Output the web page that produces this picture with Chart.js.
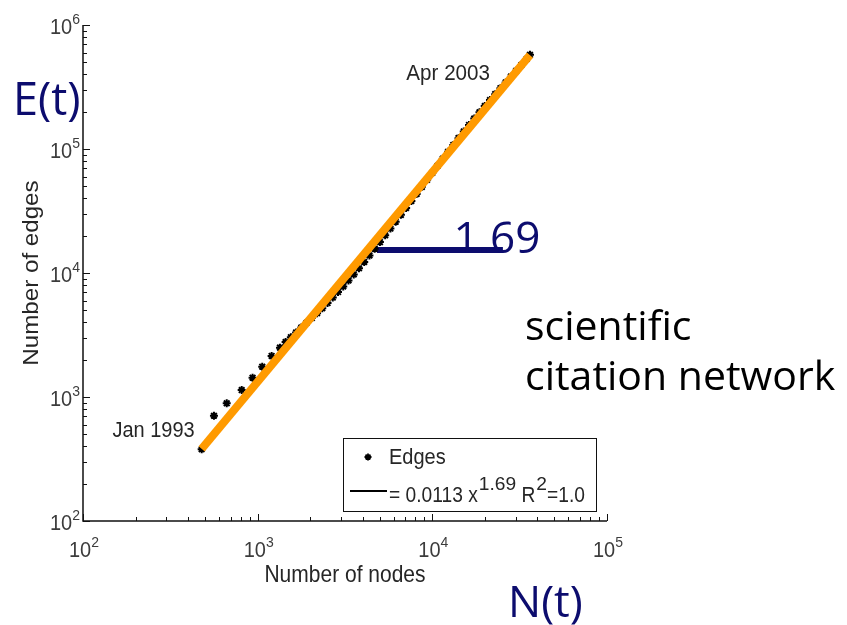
<!DOCTYPE html>
<html>
<head>
<meta charset="utf-8">
<title>Densification of the citation graph</title>
<script src="https://cdn.jsdelivr.net/npm/chart.js@4.4.1/dist/chart.umd.min.js"></script>
<style>
  html, body { margin: 0; padding: 0; background: #fff; }
  #wrap { position: relative; width: 847px; height: 625px; }
</style>
</head>
<body>
<div id="wrap"><canvas id="densChart" width="847" height="625"></canvas></div>
<script>
// monthly snapshots of the citation graph, Jan 1993 .. Apr 2003
var nodes = [478, 562, 665, 810, 935, 1062, 1202, 1342, 1445, 1549, 1660, 1778, 1905, 2042,
  2188, 2344, 2512, 2692, 2884, 3090, 3311, 3548, 3802, 4074, 4365, 4677, 5012, 5370, 5754,
  6166, 6607, 7079, 7586, 8128, 8710, 9333, 10000, 10715, 11482, 12303, 13183, 14125, 15136,
  16218, 17378, 18621, 19953, 21380, 22909, 24547, 26303, 28184, 30200, 32359, 34674, 36224];
var edges = [379, 706, 890, 1137, 1432, 1755, 2142, 2500, 2776, 3035, 3318, 3627, 3965, 4334,
  4738, 5204, 5728, 6335, 7021, 7800, 8706, 9739, 10920, 12272, 13855, 15679, 17743, 20125,
  22825, 25890, 29431, 33460, 38125, 43443, 49503, 56404, 64271, 73237, 83447, 94869, 107850,
  122330, 138430, 156290, 176050, 197850, 221830, 248160, 276960, 309100, 344210, 383300,
  426780, 476340, 531650, 575050];

// power-law fit E = a * N^b
var fitCoef = 0.0113;
var fitExp = 1.69;
var fitR2 = '1.0';
var fitRange = [478, 36200];

// horizontal bar marking the slope
var slopeBarNodes = [4820, 25350];
var slopeBarEdges = 15300;

// decade exponents on each axis
var xPowers = [2, 3, 4, 5];
var yPowers = [2, 3, 4, 5, 6];

var startLabel = 'Jan 1993';
var endLabel = 'Apr 2003';

var navy = '#0c0c6e';
var orange = '#ff9a00';
var mFont = '"Liberation Sans", Arial, sans-serif';
var sFont = '"Open Sans", "Noto Sans", sans-serif';

var points = nodes.map(function(n, i) { return { x: n, y: edges[i] }; });
var fitPoints = fitRange.map(function(n) { return { x: n, y: fitCoef * Math.pow(n, fitExp) }; });
var slopePoints = slopeBarNodes.map(function(n) { return { x: n, y: slopeBarEdges }; });

// text with optional x/y stretch, anchored on its baseline
function txt(ctx, s, x, y, font, sx, sy) {
  ctx.save();
  ctx.font = font;
  ctx.translate(x, y);
  ctx.scale(sx || 1, sy || 1);
  ctx.fillText(s, 0, 0);
  ctx.restore();
}
function width(ctx, s, font, sx) {
  ctx.save();
  ctx.font = font;
  var w = ctx.measureText(s).width * (sx || 1);
  ctx.restore();
  return w;
}

// "10" with a raised exponent
function powLabel(ctx, p, x, y, align) {
  var bf = '20px ' + mFont, ef = '14px ' + mFont;
  var wb = width(ctx, '10', bf), we = width(ctx, String(p), ef);
  var left = align === 'center' ? x - (wb + we) / 2 : x - wb - we;
  txt(ctx, '10', left, y, bf, 1, 1.1);
  txt(ctx, String(p), left + wb, y - 10, ef, 1, 1.1);
}

var overlay = {
  id: 'overlay',
  afterDraw: function(chart) {
    var ctx = chart.ctx, a = chart.chartArea;
    var xs = chart.scales.x, ys = chart.scales.y;
    ctx.save();

    // axis lines
    ctx.strokeStyle = '#111';
    ctx.lineWidth = 1.5;
    ctx.beginPath();
    ctx.moveTo(a.left, a.top);
    ctx.lineTo(a.left, a.bottom);
    ctx.lineTo(a.right, a.bottom);
    ctx.stroke();

    // inward ticks, majors at decades
    ctx.lineWidth = 1;
    ctx.beginPath();
    var k, m, v, px, len;
    for (k = xPowers[0]; k <= xPowers[xPowers.length - 1]; k++) {
      for (m = 1; m <= 9; m++) {
        v = m * Math.pow(10, k);
        if (v > xs.max * 1.0001) break;
        px = Math.round(xs.getPixelForValue(v)) + 0.5;
        len = m === 1 ? 7 : 4;
        ctx.moveTo(px, a.bottom);
        ctx.lineTo(px, a.bottom - len);
      }
    }
    for (k = yPowers[0]; k <= yPowers[yPowers.length - 1]; k++) {
      for (m = 1; m <= 9; m++) {
        v = m * Math.pow(10, k);
        if (v > ys.max * 1.0001) break;
        px = Math.round(ys.getPixelForValue(v)) + 0.5;
        len = m === 1 ? 7 : 4;
        ctx.moveTo(a.left, px);
        ctx.lineTo(a.left + len, px);
      }
    }
    ctx.stroke();

    // tick labels
    ctx.fillStyle = '#3c3c3c';
    ctx.textAlign = 'left';
    ctx.textBaseline = 'alphabetic';
    xPowers.forEach(function(p) {
      powLabel(ctx, p, xs.getPixelForValue(Math.pow(10, p)) + 1, a.bottom + 36, 'center');
    });
    yPowers.forEach(function(p) {
      powLabel(ctx, p, a.left - 3, ys.getPixelForValue(Math.pow(10, p)) + 9, 'right');
    });

    // axis titles
    ctx.fillStyle = '#262626';
    var tf = '21px ' + mFont;
    var tw = width(ctx, 'Number of nodes', tf);
    txt(ctx, 'Number of nodes', (a.left + a.right) / 2 - tw / 2, a.bottom + 61, tf, 1, 1.1);
    ctx.save();
    ctx.translate(38, (a.top + a.bottom) / 2);
    ctx.rotate(-Math.PI / 2);
    var tw2 = width(ctx, 'Number of edges', tf, 1.15);
    txt(ctx, 'Number of edges', -tw2 / 2, 0, tf, 1.15, 1.05);
    ctx.restore();

    // first / last snapshot labels
    var f = points[0], l = points[points.length - 1];
    var lf = '20px ' + mFont;
    var fx = xs.getPixelForValue(f.x), fy = ys.getPixelForValue(f.y);
    txt(ctx, startLabel, fx - 7 - width(ctx, startLabel, lf), fy - 12, lf, 1, 1.12);
    var lx = xs.getPixelForValue(l.x), ly = ys.getPixelForValue(l.y);
    txt(ctx, endLabel, lx - 40 - width(ctx, endLabel, lf, 1.03), ly + 25, lf, 1.03, 1.12);

    // legend box
    var bx = 343, by = 438, bw = 253, bh = 73;
    ctx.fillStyle = '#fff';
    ctx.fillRect(bx, by, bw, bh);
    ctx.strokeStyle = '#111';
    ctx.lineWidth = 1;
    ctx.strokeRect(bx + 0.5, by + 0.5, bw, bh);
    ctx.strokeStyle = '#000';
    ctx.fillStyle = '#000';
    ctx.lineWidth = 1.8;
    Chart.helpers.drawPoint(ctx, { pointStyle: 'star', radius: 3.5, rotation: 0, borderWidth: 1.8 }, bx + 25, by + 19);
    ctx.fillStyle = '#262626';
    var gf = '20px ' + mFont, sf = '16px ' + mFont;
    txt(ctx, 'Edges', bx + 46, by + 26, gf, 1, 1.1);
    ctx.strokeStyle = '#000';
    ctx.lineWidth = 2.2;
    ctx.beginPath();
    ctx.moveTo(bx + 7, by + 53);
    ctx.lineTo(bx + 44, by + 53);
    ctx.stroke();
    var ex = bx + 46, ey = by + 64;
    var s1 = '= ' + fitCoef + ' x';
    txt(ctx, s1, ex, ey, gf, 0.96, 1.1);
    ex += width(ctx, s1, gf, 0.96) + 1;
    txt(ctx, String(fitExp), ex, ey - 12, sf, 1.2, 1.1);
    ex += width(ctx, String(fitExp), sf, 1.2);
    txt(ctx, ' R', ex, ey, gf, 0.96, 1.1);
    ex += width(ctx, ' R', gf, 0.96) + 1;
    txt(ctx, '2', ex, ey - 12, sf, 1.2, 1.1);
    ex += width(ctx, '2', sf, 1.2);
    txt(ctx, '=' + fitR2, ex, ey, gf, 0.96, 1.1);

    // slide captions
    ctx.fillStyle = navy;
    txt(ctx, 'E(t)', 13, 115, '45px ' + sFont);
    txt(ctx, 'N(t)', 508, 617, '44px ' + sFont);
    txt(ctx, String(fitExp), xs.getPixelForValue(13200), ys.getPixelForValue(slopeBarEdges) + 3, '44px ' + sFont);
    ctx.fillStyle = '#000';
    txt(ctx, 'scientific', 525, 340, '41px ' + sFont);
    txt(ctx, 'citation network', 525, 390, '41px ' + sFont);

    ctx.restore();
  }
};

new Chart(document.getElementById('densChart'), {
  type: 'scatter',
  data: {
    datasets: [
      {
        label: 'fit',
        data: fitPoints,
        showLine: true,
        borderColor: orange,
        borderWidth: 8,
        borderCapStyle: 'butt',
        pointRadius: 0,
        order: 0
      },
      {
        label: 'Edges',
        data: points,
        showLine: false,
        pointStyle: 'star',
        pointRadius: 4,
        borderColor: '#000',
        backgroundColor: '#000',
        borderWidth: 2,
        order: 1
      },
      {
        label: 'slope',
        data: slopePoints,
        showLine: true,
        borderColor: navy,
        borderWidth: 6,
        borderCapStyle: 'butt',
        pointRadius: 0,
        order: 2
      }
    ]
  },
  options: {
    responsive: false,
    animation: false,
    devicePixelRatio: 1,
    layout: { padding: { left: 83, right: 240, top: 25, bottom: 104 } },
    scales: {
      x: { type: 'logarithmic', min: 100, max: 100000, display: false },
      y: { type: 'logarithmic', min: 100, max: 1000000, display: false }
    },
    plugins: {
      legend: { display: false },
      tooltip: { enabled: false }
    }
  },
  plugins: [overlay]
});
</script>
</body>
</html>
